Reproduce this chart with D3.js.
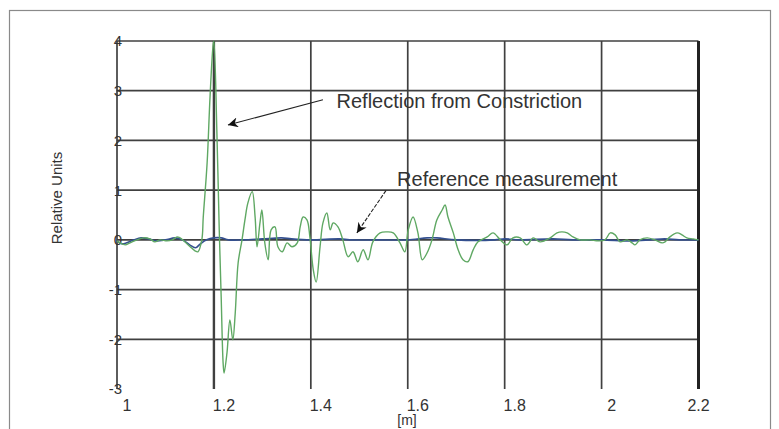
<!DOCTYPE html>
<html><head><meta charset="utf-8">
<script src="https://cdn.jsdelivr.net/npm/d3@7"></script>
<style>body{margin:0;background:#fff}svg{display:block;font-family:"Liberation Sans",Arial,sans-serif}</style>
</head><body>
<svg id="c" width="779" height="429"></svg>
<script>
// ---- data ----
const xTicks = [1, 1.2, 1.4, 1.6, 1.8, 2, 2.2];
const xTickLabels = ["1", "1.2", "1.4", "1.6", "1.8", "2", "2.2"];
const yTicks = [4, 3, 2, 1, 0, -1, -2, -3];
const yTickLabels = ["4", "3", "2", "1", "0", "-1", "-2", "-3"];
const xLabel = "[m]";
const yLabel = "Relative Units";

const reflX = [1.000,1.006,1.017,1.027,1.041,1.054,1.068,1.078,1.089,1.103,1.114,1.124,1.130,1.140,1.151,1.161,1.167,1.175,1.178,1.186,1.192,1.198,1.200,1.206,1.211,1.215,1.219,1.221,1.227,1.233,1.239,1.244,1.250,1.258,1.264,1.270,1.279,1.285,1.289,1.295,1.299,1.305,1.312,1.318,1.326,1.332,1.341,1.351,1.361,1.372,1.378,1.384,1.392,1.398,1.405,1.411,1.419,1.425,1.433,1.440,1.446,1.456,1.466,1.477,1.487,1.497,1.508,1.518,1.528,1.543,1.557,1.570,1.584,1.594,1.601,1.611,1.621,1.630,1.640,1.650,1.660,1.671,1.677,1.683,1.694,1.704,1.714,1.724,1.735,1.745,1.764,1.776,1.791,1.805,1.817,1.832,1.846,1.859,1.873,1.894,1.908,1.918,1.929,1.941,1.956,1.976,1.993,2.007,2.018,2.028,2.038,2.053,2.063,2.069,2.079,2.094,2.110,2.125,2.131,2.141,2.156,2.166,2.176,2.189,2.200];
const reflY = [-0.02,-0.06,-0.10,-0.06,0.00,0.04,0.02,-0.04,0.00,-0.02,0.00,0.06,0.04,-0.04,-0.14,-0.22,-0.24,0.00,0.46,1.55,2.88,3.88,4.00,2.21,0.20,-1.15,-2.48,-2.68,-2.27,-1.61,-2.01,-1.47,-0.46,0.00,0.40,0.74,0.97,0.46,-0.14,0.34,0.60,-0.06,-0.40,0.20,0.26,-0.14,-0.24,-0.06,-0.14,-0.06,0.26,0.46,0.40,0.06,-0.60,-0.85,-0.14,0.34,0.54,0.20,0.34,0.26,0.00,-0.34,-0.24,-0.44,-0.20,-0.40,-0.04,0.14,0.16,0.14,-0.06,-0.24,0.20,0.46,0.14,-0.40,-0.26,0.00,0.40,0.60,0.70,0.46,0.14,-0.20,-0.40,-0.44,-0.20,-0.04,0.06,0.14,0.00,-0.10,0.04,0.04,-0.10,0.04,-0.04,0.04,0.14,0.16,0.14,0.06,0.00,0.00,-0.02,0.00,0.14,0.10,-0.04,0.00,-0.06,-0.10,0.00,0.04,0.00,-0.06,-0.04,0.06,0.14,0.10,0.04,0.02,0.00];

const refX = [1.000,1.010,1.020,1.035,1.050,1.065,1.080,1.100,1.120,1.135,1.150,1.162,1.172,1.185,1.200,1.215,1.230,1.260,1.300,1.340,1.360,1.400,1.460,1.480,1.540,1.600,1.640,1.660,1.700,1.780,1.800,1.830,1.900,1.940,2.000,2.060,2.100,2.130,2.160,2.200];
const refY = [-0.02,-0.08,-0.06,0.00,0.04,0.02,-0.02,0.00,0.04,0.00,-0.10,-0.16,-0.08,0.00,0.04,0.04,0.00,0.00,0.02,0.04,0.02,0.00,0.02,0.00,0.00,0.00,0.04,0.04,0.00,0.00,0.02,0.00,0.02,0.00,0.00,-0.02,0.00,0.02,0.00,0.00];

const annotations = [
  {text: "Reflection from Constriction", tx: 1.453, ty: 2.66, x1: 1.425, y1: 2.82, x2: 1.229, y2: 2.31, dash: false},
  {text: "Reference measurement", tx: 1.578, ty: 1.09, x1: 1.555, y1: 0.99, x2: 1.495, y2: 0.14, dash: true}
];

// ---- drawing ----
const svg = d3.select("#c");
const x = d3.scaleLinear().domain([1, 2.2]).range([117, 698.5]);
const y = d3.scaleLinear().domain([-3, 4]).range([389, 41]);

svg.append("rect").attr("x", 9.5).attr("y", 10.5).attr("width", 761).attr("height", 440)
  .attr("fill", "none").attr("stroke", "#8a8a8a").attr("stroke-width", 1.2);

const grid = svg.append("g");
grid.selectAll("line.h").data(yTicks.filter(d => d > -3)).enter().append("line")
  .attr("x1", x(1)).attr("x2", x(2.2)).attr("y1", d => y(d)).attr("y2", d => y(d))
  .attr("stroke", "#404040").attr("stroke-width", 1.7);
grid.selectAll("line.v").data(xTicks).enter().append("line")
  .attr("x1", d => x(d)).attr("x2", d => x(d)).attr("y1", y(4)).attr("y2", y(-3))
  .attr("stroke", d => d === 2.2 ? "#222" : "#404040")
  .attr("stroke-width", d => d === 2.2 ? 3 : (d === 1.2 ? 2.4 : 1.7));

svg.append("g").selectAll("text").data(yTicks).enter().append("text")
  .attr("x", x(1) + 5).attr("y", d => y(d)).attr("dy", "0.36em")
  .attr("text-anchor", "end").attr("font-size", 15).attr("fill", "#333")
  .text((d, i) => yTickLabels[i]);
svg.append("g").selectAll("text").data(xTicks).enter().append("text")
  .attr("x", d => Math.min(x(d) + 10, x(2.2))).attr("y", 411)
  .attr("text-anchor", "middle").attr("font-size", 16).attr("fill", "#333")
  .text((d, i) => xTickLabels[i]);

svg.append("text").attr("x", 407).attr("y", 425).attr("text-anchor", "middle")
  .attr("font-size", 14).attr("fill", "#333").text(xLabel);
svg.append("text").attr("transform", "translate(62,198) rotate(-90)").attr("text-anchor", "middle")
  .attr("font-size", 15).attr("fill", "#333").text(yLabel);

const line = d3.line().x(d => x(d[0])).y(d => y(d[1])).curve(d3.curveCatmullRom.alpha(0.5));
svg.append("path").datum(refX.map((v, i) => [v, refY[i]]))
  .attr("d", line).attr("fill", "none").attr("stroke", "#34508f").attr("stroke-width", 1.6);
svg.append("path").datum(reflX.map((v, i) => [v, reflY[i]]))
  .attr("d", line).attr("fill", "none").attr("stroke", "#5fa863").attr("stroke-width", 1.4);

svg.append("defs").append("marker").attr("id", "ah").attr("viewBox", "0 0 10 10")
  .attr("refX", 10).attr("refY", 5).attr("markerWidth", 14).attr("markerHeight", 10)
  .attr("markerUnits", "userSpaceOnUse").attr("orient", "auto")
  .append("path").attr("d", "M0,0 L10,5 L0,10 L3,5 Z").attr("fill", "#111");
const ann = svg.append("g");
annotations.forEach(a => {
  ann.append("line").attr("x1", x(a.x1)).attr("y1", y(a.y1)).attr("x2", x(a.x2)).attr("y2", y(a.y2))
    .attr("stroke", "#222").attr("stroke-width", 1.1)
    .attr("stroke-dasharray", a.dash ? "4,1.5" : null).attr("marker-end", "url(#ah)");
  ann.append("text").attr("x", x(a.tx)).attr("y", y(a.ty)).attr("font-size", 20)
    .attr("fill", "#333").text(a.text);
});
</script>
</body></html>
